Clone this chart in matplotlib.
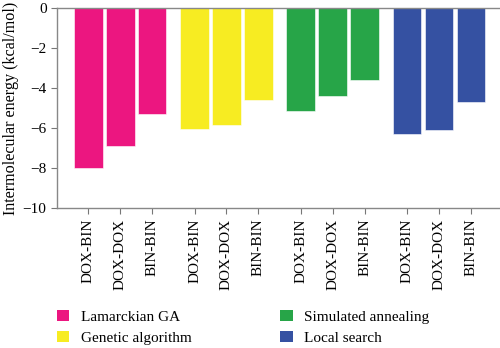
import matplotlib
matplotlib.use("Agg")
import matplotlib.pyplot as plt
from matplotlib.patches import Patch

# Docking energies by search method and complex
methods = ["Lamarckian GA", "Genetic algorithm", "Simulated annealing", "Local search"]
complexes = ["DOX-BIN", "DOX-DOX", "BIN-BIN"]
lamarckian = [-8.0, -6.9, -5.3]
genetic = [-6.05, -5.85, -4.6]
annealing = [-5.15, -4.4, -3.6]
local_search = [-6.3, -6.1, -4.7]
series = [lamarckian, genetic, annealing, local_search]
colors = ["#EC1680", "#F7EC22", "#27A548", "#3551A2"]

plt.rcParams["font.family"] = ["Liberation Serif", "DejaVu Serif"]

fig = plt.figure(figsize=(5.0, 3.48), dpi=100)
ax = fig.add_axes([0.114, 0.402, 0.886, 0.575])

group_step = 3.33
xs, labels = [], []
for g, (vals, col) in enumerate(zip(series, colors)):
    pos = [g * group_step + j for j in range(len(vals))]
    ax.bar(pos, vals, width=0.9, color=col, edgecolor="white", linewidth=0.4)
    xs += pos
    labels += complexes

ax.set_ylim(-10, 0)
ax.set_xlim(-0.98, 12.9)
ax.set_yticks(range(-10, 1, 2))
ax.set_xticks(xs)
ax.set_xticklabels(labels, rotation=90, fontsize=11)
ax.tick_params(axis="y", labelsize=11, direction="out", length=4, color="#777777")
ax.tick_params(axis="x", direction="out", length=4, color="#777777")
ax.set_ylabel("Intermolecular energy (kcal/mol)", fontsize=11.6, labelpad=3)

for side in ["left", "top", "bottom"]:
    ax.spines[side].set_color("#888888")
    ax.spines[side].set_linewidth(1.0)
ax.spines["right"].set_visible(False)

handles = [Patch(facecolor=c, edgecolor="none") for c in colors]
fig.legend(handles, methods, ncol=2, frameon=False, fontsize=11,
           loc="upper left", bbox_to_anchor=(0.087, 0.150),
           handlelength=0.8, handleheight=0.8, handletextpad=0.75,
           columnspacing=5.8, labelspacing=0.45)

fig.savefig("out.png", dpi=100)
